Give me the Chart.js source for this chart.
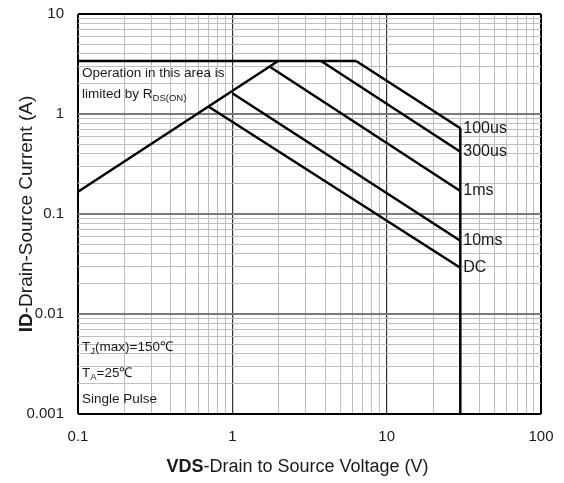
<!DOCTYPE html>
<html>
<head>
<meta charset="utf-8">
<script src="https://cdn.jsdelivr.net/npm/chart.js@4.4.0/dist/chart.umd.min.js"></script>
<style>
html,body{margin:0;padding:0;background:#fff;}
#wrap{width:564px;height:483px;position:relative;}
</style>
</head>
<body>
<div id="wrap"><canvas id="c"></canvas></div>
<script>
// ---- data ----
const xDecades = [0.1, 1, 10, 100];
const yDecades = [0.001, 0.01, 0.1, 1, 10];
const xTickLabels = ['0.1', '1', '10', '100'];
const yTickLabels = ['0.001', '0.01', '0.1', '1', '10'];

const rdsonV = [0.1, 1.98];   const rdsonI = [0.167, 3.39];
const limitV = [0.1, 6.34];   const limitI = [3.39, 3.39];
const us100V = [6.34, 30];    const us100I = [3.39, 0.72];
const us300V = [3.76, 30];    const us300I = [3.39, 0.42];
const ms1V   = [1.75, 30];    const ms1I   = [2.97, 0.17];
const ms10V  = [1.0, 30];     const ms10I  = [1.61, 0.054];
const dcV    = [0.70, 30];    const dcI    = [1.19, 0.029];
const vmaxV  = [30, 30];      const vmaxI  = [0.72, 0.001];

const curveNames = ['100us', '300us', '1ms', '10ms', 'DC'];
const curveEndI  = [us100I[1], us300I[1], ms1I[1], ms10I[1], dcI[1]];
const curveEndV  = [us100V[1], us300V[1], ms1V[1], ms10V[1], dcV[1]];

// ---- helpers ----
function pts(xs, ys){ return xs.map((x,i)=>({x:x, y:ys[i]})); }
function gridValues(decs){
  const out = [];
  for (let d = 0; d < decs.length; d++){
    const base = decs[d];
    if (d === decs.length - 1){ out.push(base); break; }
    for (let k = 1; k <= 9; k++) out.push(+(base*k).toPrecision(6));
  }
  return out;
}
function isDecade(v){ const l = Math.log10(v); return Math.abs(l - Math.round(l)) < 1e-6; }

const FONT = "'Liberation Sans', Arial, Helvetica, sans-serif";
const TXT = '#1a1a1a';

function lineDs(xs, ys){
  return { data: pts(xs, ys), borderColor: '#000', borderWidth: 2.5, pointRadius: 0,
           fill: false, tension: 0, showLine: true, clip: false };
}

function drawRuns(ctx, x, y, runs, align){
  let total = 0;
  runs.forEach(r => { ctx.font = (r.bold?'bold ':'') + r.size + 'px ' + FONT; r.w = ctx.measureText(r.t).width; total += r.w; });
  let cx = align === 'center' ? x - total/2 : x;
  ctx.textAlign = 'left';
  ctx.textBaseline = 'middle';
  runs.forEach(r => {
    ctx.font = (r.bold?'bold ':'') + r.size + 'px ' + FONT;
    ctx.fillText(r.t, cx, y + (r.dy||0));
    cx += r.w;
  });
}

const textPlugin = {
  id: 'texts',
  afterDraw(chart){
    const ctx = chart.ctx;
    const xs = chart.scales.x, ys = chart.scales.y;
    const ca = chart.chartArea;
    ctx.save();
    ctx.fillStyle = TXT;
    curveNames.forEach((n,i) => {
      const px = xs.getPixelForValue(curveEndV[i]) + 3;
      const py = ys.getPixelForValue(curveEndI[i]);
      drawRuns(ctx, px, py, [{t:n, size:16}], 'left');
    });
    const lx = ca.left + 4;
    drawRuns(ctx, lx, ca.top + 59, [{t:'Operation in this area is', size:13.5}], 'left');
    drawRuns(ctx, lx, ca.top + 80, [{t:'limited by R', size:13.5}, {t:'DS(ON)', size:9.5, dy:4}], 'left');
    drawRuns(ctx, lx, ca.top + 333, [{t:'T', size:13.5}, {t:'J', size:9.5, dy:4}, {t:'(max)=150\u2103', size:13.5}], 'left');
    drawRuns(ctx, lx, ca.top + 359, [{t:'T', size:13.5}, {t:'A', size:9.5, dy:4}, {t:'=25\u2103', size:13.5}], 'left');
    drawRuns(ctx, lx, ca.top + 385, [{t:'Single Pulse', size:13.5}], 'left');
    drawRuns(ctx, (ca.left + ca.right)/2 - 12, 467, [{t:'VDS', size:18, bold:true}, {t:'-Drain to Source Voltage (V)', size:18}], 'center');
    ctx.translate(27, 214);
    ctx.rotate(-Math.PI/2);
    drawRuns(ctx, 0, 0, [{t:'ID', size:19, bold:true}, {t:'-Drain-Source Current (A)', size:19}], 'center');
    ctx.restore();
  }
};

const xGrid = gridValues(xDecades);
const yGrid = gridValues(yDecades);

new Chart(document.getElementById('c'), {
  type: 'line',
  data: {
    datasets: [
      lineDs(limitV, limitI),
      lineDs(rdsonV, rdsonI),
      lineDs(us100V, us100I),
      lineDs(us300V, us300I),
      lineDs(ms1V, ms1I),
      lineDs(ms10V, ms10I),
      lineDs(dcV, dcI),
      lineDs(vmaxV, vmaxI)
    ]
  },
  options: {
    responsive: true,
    maintainAspectRatio: false,
    animation: false,
    layout: { padding: { top: 14, right: 23, left: 0, bottom: 0 } },
    plugins: { legend: { display: false }, tooltip: { enabled: false } },
    scales: {
      x: {
        type: 'logarithmic', min: 0.1, max: 100,
        afterBuildTicks: (axis) => { axis.ticks = xGrid.map(v => ({value: v})); },
        afterFit: (axis) => { axis.height = 69; axis.paddingLeft = 0; axis.paddingRight = 0; },
        border: { display: false },
        grid: {
          drawTicks: false,
          color: (c) => { const v = c.tick.value; if (v === 0.1 || v === 100) return '#000'; return isDecade(v) ? '#333' : '#bdbdbd'; },
          lineWidth: (c) => { const v = c.tick.value; if (v === 0.1 || v === 100) return 2; return isDecade(v) ? 1.2 : 1; }
        },
        ticks: {
          autoSkip: false, maxRotation: 0, padding: 14, color: TXT,
          font: { family: FONT, size: 15 },
          callback: (v) => { const i = xDecades.findIndex(d => Math.abs(d - v) < 1e-9); return i >= 0 ? xTickLabels[i] : ''; }
        }
      },
      y: {
        type: 'logarithmic', min: 0.001, max: 10,
        afterBuildTicks: (axis) => { axis.ticks = yGrid.map(v => ({value: v})); },
        afterFit: (axis) => { axis.width = 78; axis.paddingTop = 0; axis.paddingBottom = 0; },
        border: { display: false },
        grid: {
          drawTicks: false,
          color: (c) => { const v = c.tick.value; if (v === 0.001 || v === 10) return '#000'; return isDecade(v) ? '#7a7a7a' : '#bdbdbd'; },
          lineWidth: (c) => { const v = c.tick.value; if (v === 0.001 || v === 10) return 2; return isDecade(v) ? 2 : 1; }
        },
        ticks: {
          autoSkip: false, padding: 14, color: TXT,
          font: { family: FONT, size: 15 },
          callback: (v) => { const i = yDecades.findIndex(d => Math.abs(d - v) < 1e-12); return i >= 0 ? yTickLabels[i] : ''; }
        }
      }
    }
  },
  plugins: [textPlugin]
});
</script>
</body>
</html>
